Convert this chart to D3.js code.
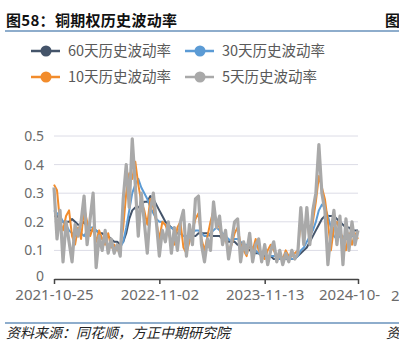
<!DOCTYPE html>
<html>
<head>
<meta charset="utf-8">
<script src="https://cdn.jsdelivr.net/npm/d3@7"></script>
<style>
    body { margin: 0; background: #fff; }
    svg { display: block; font-family: "Noto Sans CJK SC", "Noto Sans", sans-serif; }
</style>
</head>
<body>
<div id="chart"></div>
<script>
const seriesNames = ["60天历史波动率", "30天历史波动率", "10天历史波动率", "5天历史波动率"];
const seriesColors = ["#44546a", "#5b9bd5", "#f28c2c", "#a9a9a9"];

// last label is cut off by the page edge in the source, only "2024-10-" shows
const tickLabels = ["2021-10-25", "2022-11-02", "2023-11-13", "2024-10-28"];
const tickIndex = [0, 35, 70, 101];
const yTicks = [0, 0.1, 0.2, 0.3, 0.4, 0.5];

const vol60 = [0.22, 0.22, 0.21, 0.2, 0.2, 0.2, 0.21, 0.2, 0.19, 0.19,
    0.2, 0.18, 0.17, 0.17, 0.17, 0.16, 0.16, 0.15, 0.15, 0.14,
    0.13, 0.13, 0.12, 0.13, 0.16, 0.21, 0.24, 0.25, 0.25, 0.26,
    0.27, 0.27, 0.29, 0.28, 0.26, 0.24, 0.22, 0.2, 0.19, 0.18,
    0.17, 0.16, 0.16, 0.15, 0.15, 0.15, 0.15, 0.15, 0.16, 0.16,
    0.16, 0.16, 0.15, 0.15, 0.15, 0.15, 0.14, 0.14, 0.13, 0.13,
    0.13, 0.12, 0.12, 0.11, 0.11, 0.1, 0.1, 0.09, 0.09, 0.08,
    0.08, 0.08, 0.08, 0.07, 0.07, 0.07, 0.07, 0.07, 0.07, 0.07,
    0.07, 0.08, 0.09, 0.1, 0.11, 0.13, 0.15, 0.17, 0.19, 0.21,
    0.22, 0.22, 0.22, 0.22, 0.21, 0.2, 0.19, 0.18, 0.18, 0.17,
    0.17, 0.17];

const vol30 = [0.24, 0.23, 0.22, 0.2, 0.19, 0.17, 0.16, 0.15, 0.17, 0.16,
    0.15, 0.17, 0.18, 0.18, 0.17, 0.16, 0.14, 0.13, 0.12, 0.12,
    0.11, 0.11, 0.11, 0.13, 0.18, 0.24, 0.3, 0.33, 0.35, 0.32,
    0.3, 0.28, 0.25, 0.23, 0.21, 0.2, 0.2, 0.19, 0.18, 0.18,
    0.17, 0.16, 0.16, 0.15, 0.15, 0.15, 0.16, 0.17, 0.17, 0.16,
    0.15, 0.15, 0.16, 0.17, 0.18, 0.17, 0.16, 0.15, 0.14, 0.13,
    0.14, 0.14, 0.13, 0.12, 0.12, 0.11, 0.11, 0.1, 0.09, 0.09,
    0.09, 0.08, 0.08, 0.08, 0.08, 0.07, 0.07, 0.07, 0.08, 0.07,
    0.07, 0.08, 0.1, 0.11, 0.13, 0.15, 0.17, 0.2, 0.24, 0.26,
    0.25, 0.22, 0.18, 0.15, 0.14, 0.15, 0.15, 0.14, 0.14, 0.15,
    0.15, 0.15];

const vol10 = [0.33, 0.31, 0.2, 0.17, 0.22, 0.24, 0.15, 0.12, 0.18, 0.14,
    0.25, 0.2, 0.15, 0.18, 0.13, 0.17, 0.14, 0.12, 0.16, 0.11,
    0.12, 0.1, 0.11, 0.18, 0.3, 0.37, 0.35, 0.41, 0.33, 0.27,
    0.24, 0.19, 0.28, 0.25, 0.2, 0.14, 0.2, 0.19, 0.16, 0.13,
    0.12, 0.18, 0.2, 0.11, 0.09, 0.13, 0.17, 0.21, 0.23, 0.14,
    0.1, 0.15, 0.2, 0.24, 0.2, 0.18, 0.13, 0.14, 0.1, 0.12,
    0.16, 0.18, 0.12, 0.1, 0.08, 0.13, 0.1, 0.14, 0.1, 0.08,
    0.07, 0.1, 0.12, 0.1, 0.08, 0.09, 0.07, 0.1, 0.08, 0.08,
    0.09, 0.1, 0.2, 0.15, 0.22, 0.13, 0.2, 0.27, 0.36, 0.32,
    0.28, 0.2, 0.1, 0.18, 0.2, 0.17, 0.14, 0.1, 0.16, 0.12,
    0.16, 0.14];

const vol5 = [0.32, 0.14, 0.24, 0.06, 0.2, 0.13, 0.06, 0.19, 0.15, 0.2,
    0.29, 0.12, 0.21, 0.3, 0.04, 0.15, 0.1, 0.17, 0.09, 0.14,
    0.09, 0.12, 0.08, 0.28, 0.4, 0.25, 0.49, 0.33, 0.15, 0.3,
    0.2, 0.09, 0.24, 0.3, 0.2, 0.08, 0.17, 0.13, 0.2, 0.09,
    0.18, 0.1, 0.2, 0.24, 0.08, 0.19, 0.12, 0.28, 0.29, 0.12,
    0.06, 0.14, 0.1, 0.27, 0.18, 0.22, 0.12, 0.17, 0.07, 0.13,
    0.2, 0.21, 0.06, 0.13, 0.09, 0.16, 0.06, 0.12, 0.14, 0.06,
    0.12, 0.05, 0.1, 0.13, 0.06, 0.1, 0.05, 0.09, 0.06, 0.1,
    0.07, 0.09, 0.25, 0.12, 0.25, 0.12, 0.24, 0.3, 0.47, 0.3,
    0.24, 0.05, 0.16, 0.24, 0.12, 0.22, 0.05, 0.21, 0.1, 0.2,
    0.12, 0.17];

const allSeries = [vol60, vol30, vol10, vol5];
const lineWidths = [2, 2, 2, 3.2];

const W = 399, H = 352;

const svg = d3.select("#chart")
    .append("svg")
    .attr("width", W)
    .attr("height", H);

// title + rules
svg.append("text")
    .attr("x", 6)
    .attr("y", 26)
    .style("font-size", "15px")
    .style("font-weight", "bold")
    .style("letter-spacing", "0.3px")
    .style("fill", "#111")
    .text("图58：铜期权历史波动率");

svg.append("text")
    .attr("x", 385)
    .attr("y", 26)
    .style("font-size", "15px")
    .style("font-weight", "bold")
    .style("fill", "#111")
    .text("图");

svg.append("line")
    .attr("x1", 5).attr("x2", W)
    .attr("y1", 31).attr("y2", 31)
    .style("stroke", "#1f5c99")
    .style("stroke-width", 1.2);

svg.append("line")
    .attr("x1", 5).attr("x2", W)
    .attr("y1", 323).attr("y2", 323)
    .style("stroke", "#1f5c99")
    .style("stroke-width", 1.2);

svg.append("text")
    .attr("x", 6)
    .attr("y", 338)
    .style("font-size", "14px")
    .style("font-style", "italic")
    .style("fill", "#222")
    .text("资料来源：同花顺，方正中期研究院");

svg.append("text")
    .attr("x", 386)
    .attr("y", 338)
    .style("font-size", "14px")
    .style("font-style", "italic")
    .style("fill", "#222")
    .text("资");

// legend
const legendPos = [[31, 51], [185, 51], [31, 77], [185, 77]];
seriesNames.forEach((name, i) => {
    const g = svg.append("g")
        .attr("transform", `translate(${legendPos[i][0]}, ${legendPos[i][1]})`);
    g.append("line")
        .attr("x1", 0).attr("x2", 29)
        .attr("y1", 0).attr("y2", 0)
        .style("stroke", seriesColors[i])
        .style("stroke-width", 2.5);
    g.append("circle")
        .attr("cx", 15)
        .attr("cy", 0)
        .attr("r", 5.5)
        .style("fill", seriesColors[i]);
    g.append("text")
        .attr("x", 37)
        .attr("y", 5)
        .style("font-size", "14.5px")
        .style("fill", "#595959")
        .text(name);
});

// scales
const x = d3.scaleLinear()
    .domain([0, vol5.length - 1])
    .range([54, 358]);

const y = d3.scaleLinear()
    .domain([0, 0.5])
    .range([279, 136]);

// grid
svg.append("g")
    .selectAll("line")
    .data(yTicks.slice(1))
    .enter()
    .append("line")
    .attr("x1", 54).attr("x2", 358)
    .attr("y1", d => y(d)).attr("y2", d => y(d))
    .style("stroke", "#dcdce6")
    .style("stroke-width", 1);

// y axis labels
const yAxis = svg.append("g")
    .attr("transform", "translate(54, 0)")
    .call(d3.axisLeft(y).tickValues(yTicks).tickFormat(d => d === 0 ? "0" : d3.format(".1f")(d)).tickSize(0).tickPadding(10));
yAxis.select(".domain").remove();
yAxis.selectAll("text")
    .style("font-family", "'Noto Sans', sans-serif")
    .style("font-size", "14px")
    .style("fill", "#6b6b6b");
yAxis.selectAll(".tick")
    .filter(d => d === 0)
    .select("text")
    .attr("dy", "0.1em");

// lines
const line = d3.line()
    .x((d, i) => x(i))
    .y(d => y(d));

allSeries.forEach((s, i) => {
    svg.append("path")
        .datum(s)
        .attr("d", line)
        .style("fill", "none")
        .style("stroke", seriesColors[i])
        .style("stroke-width", lineWidths[i])
        .style("stroke-linejoin", "round");
});

// x axis
const xAxis = svg.append("g")
    .attr("transform", "translate(0, 279)")
    .call(d3.axisBottom(x)
        .tickValues(tickIndex)
        .tickFormat((d, i) => i === tickLabels.length - 1 ? tickLabels[i].slice(0, 8) : tickLabels[i])
        .tickSizeInner(5)
        .tickSizeOuter(0)
        .tickPadding(5));
xAxis.select(".domain")
    .style("stroke", "#444")
    .style("stroke-width", 1.5);
xAxis.selectAll(".tick line")
    .style("stroke", "#444")
    .style("stroke-width", 1.5);
xAxis.selectAll("text")
    .style("font-family", "'Noto Sans', sans-serif")
    .style("font-size", "15px")
    .style("fill", "#6b6b6b");
// truncated last label keeps the position the full label would have had
xAxis.selectAll(".tick")
    .filter(d => d === tickIndex[tickIndex.length - 1])
    .select("text")
    .attr("text-anchor", "start")
    .attr("x", -39.5);

svg.append("text")
    .attr("x", 391)
    .attr("y", 301)
    .style("font-family", "'Noto Sans', sans-serif")
    .style("font-size", "15px")
    .style("fill", "#6b6b6b")
    .text("2");
</script>
</body>
</html>
